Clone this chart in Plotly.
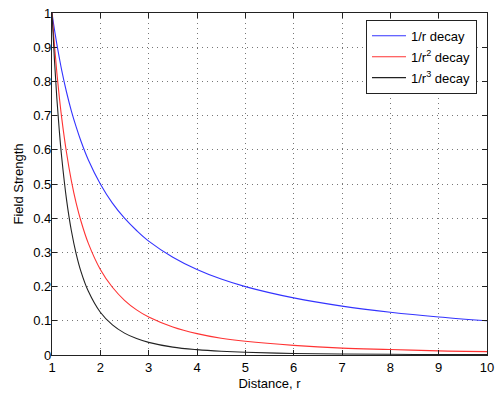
import plotly.graph_objects as go

r_vals = [1.0, 1.05, 1.1, 1.15, 1.2, 1.3, 1.4, 1.5, 1.6, 1.75, 2.0, 2.25, 2.5, 2.75, 3.0, 3.5, 4.0, 4.5, 5.0, 6.0, 7.0, 8.0, 9.0, 10.0]
inv_r = [1.0, 0.952, 0.909, 0.870, 0.833, 0.769, 0.714, 0.667, 0.625, 0.571, 0.500, 0.444, 0.400, 0.364, 0.333, 0.286, 0.250, 0.222, 0.200, 0.167, 0.143, 0.125, 0.111, 0.100]
inv_r2 = [1.0, 0.907, 0.826, 0.756, 0.694, 0.592, 0.510, 0.444, 0.391, 0.327, 0.250, 0.198, 0.160, 0.132, 0.111, 0.082, 0.0625, 0.049, 0.040, 0.028, 0.020, 0.016, 0.012, 0.010]
inv_r3 = [1.0, 0.864, 0.751, 0.658, 0.579, 0.455, 0.364, 0.296, 0.244, 0.187, 0.125, 0.088, 0.064, 0.048, 0.037, 0.023, 0.0156, 0.011, 0.008, 0.0046, 0.0029, 0.002, 0.0014, 0.001]

series_names = ["1/r decay", "1/r<sup>2</sup> decay", "1/r<sup>3</sup> decay"]
series_colors = ["#3333ff", "#ff3333", "#222222"]
series_values = [inv_r, inv_r2, inv_r3]

x_ticks = [1, 2, 3, 4, 5, 6, 7, 8, 9, 10]
y_ticks = [0, 0.1, 0.2, 0.3, 0.4, 0.5, 0.6, 0.7, 0.8, 0.9, 1]

fig = go.Figure()
for i, (name, color, vals) in enumerate(zip(series_names, series_colors, series_values)):
    fig.add_trace(go.Scatter(x=r_vals, y=vals, mode="lines", name=name, legendgroup=f"g{i}",
                             line=dict(color=color, width=1.1, shape="spline")))

axis_common = dict(
    showline=True, linecolor="#222222", linewidth=1.3, mirror="ticks",
    ticks="inside", ticklen=5, tickcolor="#222222",
    showgrid=True, gridcolor="#777777", griddash="1px,4px", gridwidth=1,
    zeroline=False, tickfont=dict(size=13, color="black"), automargin=False,
    ticklabeloverflow="allow",
)

fig.update_layout(
    width=500, height=395,
    margin=dict(l=52, r=13, t=13, b=40),
    paper_bgcolor="white", plot_bgcolor="white",
    font=dict(family="Liberation Sans, Arial, sans-serif", size=13, color="black"),
    xaxis=dict(range=[1, 10], tickvals=x_ticks, ticklabelstandoff=0,
               title=dict(text="Distance, r", standoff=5, font=dict(size=13)), **axis_common),
    yaxis=dict(range=[0, 1], tickvals=y_ticks, ticklabelstandoff=-3,
               title=dict(text="Field Strength", standoff=6, font=dict(size=13)), **axis_common),
    legend=dict(x=0.977, xanchor="right", y=0.98, yanchor="top",
                bgcolor="white", bordercolor="#222222", borderwidth=1,
                font=dict(size=13), tracegroupgap=1, itemwidth=34),
    showlegend=True,
)

# remove the default page margin so the figure sits at the window's top-left corner
fig.write_html("out.html", config={"displayModeBar": False},
               post_script="document.body.style.margin='0';")
